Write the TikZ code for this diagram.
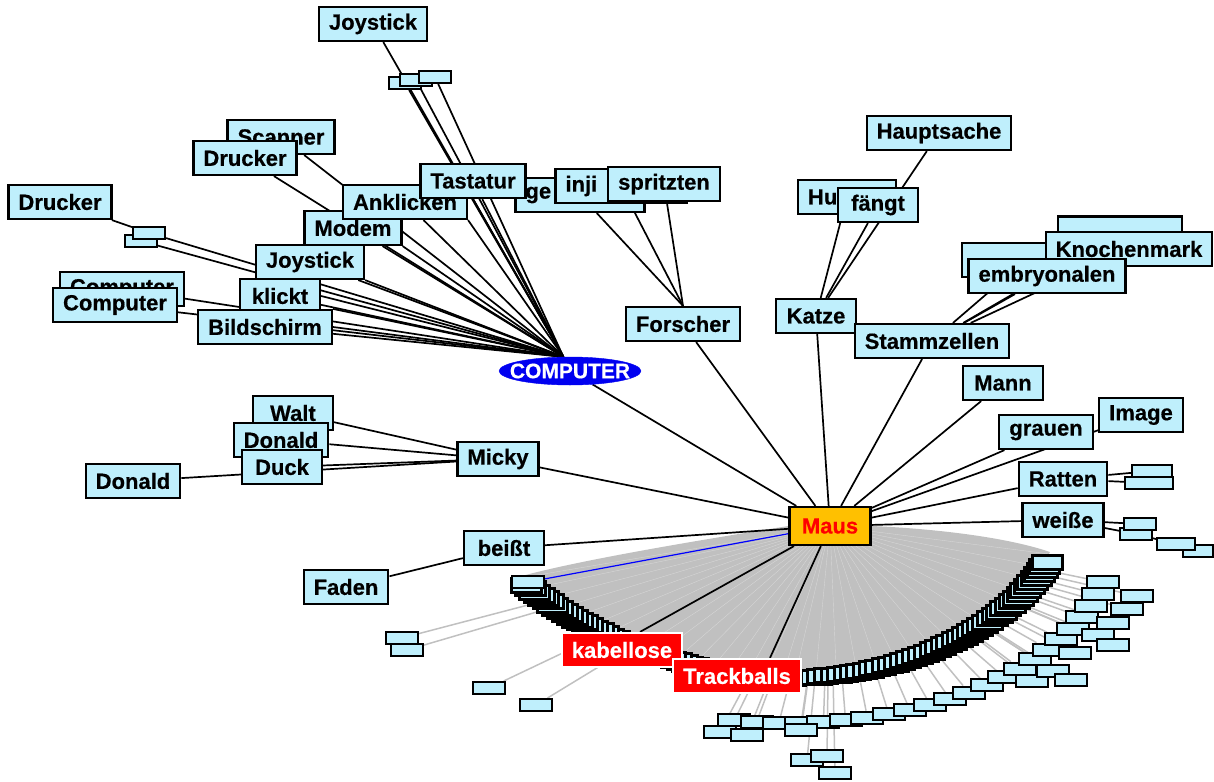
\documentclass[tikz,border=0pt]{standalone}
\usepackage{fontspec}
\setmainfont{Liberation Sans}[BoldFeatures={FakeBold=0.5}]
\usetikzlibrary{shapes.geometric,backgrounds,positioning}

\definecolor{termblue}{RGB}{191,239,252}
\definecolor{mausgold}{RGB}{255,192,0}
\definecolor{fangrey}{RGB}{192,192,192}
\definecolor{hubblue}{RGB}{0,0,240}
\newcommand{\termfont}{\fontsize{22}{26}\selectfont\bfseries}

\tikzset{
  term/.style={draw=black, line width=2.2pt, fill=termblue, font=\termfont,
    minimum height=34pt, minimum width=80pt, inner xsep=10pt, inner ysep=0pt},
  coveredterm/.style={term, text width=#1, align=left},
  tinybox/.style={draw=black, line width=2pt, fill=termblue,
    minimum width=32pt, minimum height=12pt, inner sep=0pt},
  bandbox/.style={tinybox, line width=3pt, minimum width=30pt, minimum height=14pt},
  hub/.style={ellipse, fill=hubblue, draw=hubblue, text=white,
    font=\fontsize{21}{24}\selectfont\bfseries, minimum width=142pt,
    minimum height=28pt, inner sep=0pt},
  mausbox/.style={draw=black, line width=2.2pt, fill=mausgold, text=red,
    font=\termfont, minimum width=81pt, minimum height=38pt},
  redterm/.style={term, fill=red, draw=white, text=white},
  link/.style={draw=black, line width=1.7pt},
  greylink/.style={draw=fangrey, line width=1.5pt},
}

\begin{document}
\begin{tikzpicture}[x=1pt,y=-1pt]
\useasboundingbox (0,0) rectangle (1214,781);

% COMPUTER side
\node[hub] (computer) at (570,371) {\makebox[0pt]{COMPUTER}};
\node[term] (joystickA) at (373,24) {Joystick};
\node[tinybox] (jtA) at (405,83) {};
\node[tinybox] (jtB) at (416,80) {};
\node[tinybox] (jtC) at (435,77) {};
\node[term] (druckerA) at (60,202) {Drucker};
\node[tinybox] (dtA) at (141,241) {};
\node[tinybox] (dtB) at (149,233) {};
\node[term] (scanner) at (281,137) {Scanner};
\node[term] (druckerB) at (245,158) {Drucker};
\node[term] (computerB) at (122,289) {Computer};
\node[term] (computerA) at (115,305) {Computer};
\node[term] (modem) at (353,228) {Modem};
\node[term] (anklicken) at (405,202) {Anklicken};
\node[coveredterm=109pt] (gen) at (580,195) {ge};
\node[coveredterm=111pt] (inji) at (621,186) {inji};
\node[term] (spritzten) at (664,184) {spritzten};
\node[term] (tastatur) at (473,181) {Tastatur};
\node[term] (joystickB) at (310,262) {Joystick};
\node[term] (klickt) at (280,296) {klickt};
\node[term] (bildschirm) at (265,327) {Bildschirm};

% Maus side
\node[mausbox] (maus) at (830,526) {Maus};
\node[term] (forscher) at (683,324) {Forscher};
\node[coveredterm=78pt] (hu) at (847,197) {Hu};
\node[term] (faengt) at (878,205) {fängt};
\node[term] (hauptsache) at (939,133) {Hauptsache};
\node[term] (katze) at (816,316) {Katze};
\node[term,minimum width=124pt,minimum height=31pt] (stammA) at (1120,232) {};
\node[term,minimum width=128pt] (stammB) at (1026,260) {};
\node[term] (knochenmark) at (1129,249) {Knochenmark};
\node[term] (embryonalen) at (1047,276) {embryonalen};
\node[term] (stammzellen) at (932,341) {Stammzellen};
\node[term] (mann) at (1003,383) {Mann};
\node[term] (image) at (1141,415) {Image};
\node[term] (grauen) at (1046,432) {grauen};
\node[term] (ratten) at (1063,479) {Ratten};
\node[tinybox,minimum width=48pt] (rtB) at (1149,483) {};
\node[tinybox,minimum width=40pt] (rtA) at (1152,471) {};
\node[term] (weisse) at (1063,520) {weiße};
\node[tinybox] (wtB) at (1136,534) {};
\node[tinybox] (wtA) at (1140,524) {};
\node[tinybox,minimum width=30pt] (wtD) at (1198,551) {};
\node[tinybox,minimum width=38pt] (wtC) at (1176,544) {};
\node[term] (micky) at (498,459) {Micky};
\node[term] (walt) at (293,413) {Walt};
\node[term] (donaldB) at (281,440) {Donald};
\node[term] (duck) at (282,467) {Duck};
\node[term] (donaldA) at (133,481) {Donald};
\node[term] (beisst) at (504,548) {beißt};
\node[term] (faden) at (346,587) {Faden};

% crowded band under Maus
\foreach \p [count=\i] in {1.0,0.98,...,0}
  \path (522,582) .. controls (590,640) and (700,678) .. (790,678)
    node[bandbox,pos=\p] (bandL\i) {};
\foreach \p [count=\i] in {0,0.02,...,1.0}
  \path (790,678) .. controls (900,678) and (1010,630) .. (1050,558)
    node[bandbox,pos=\p] (bandR\i) {};
\foreach \t [count=\i] in {100,96,...,12}
  \node[tinybox] (rim\i) at ({790+320*cos(\t)},{545+178*sin(\t)}) {};
\foreach \x/\y [count=\i] in {402/638,407/650,489/688,536/705,720/732,747/735,
    801/730,807/760,827/756,835/773,1137/596,1127/609,1113/623,1098/635,
    1113/645,1075/653,1032/681,1053/671,1071/680}
  \node[tinybox] (lone\i) at (\x,\y) {};
\node[tinybox] (gene) at (528,582) {};
\node[redterm] (kabellose) at (622,650) {kabellose};
\node[redterm] (trackballs) at (737,676) {Trackballs};

\begin{pgfonlayer}{background}
  \foreach \i in {1,...,23} \draw[greylink] (maus) -- (rim\i);
  \foreach \i in {1,...,19} \draw[greylink] (maus) -- (lone\i);
  \fill[fangrey] (maus.west) .. controls (700,540) and (580,560) .. (522,576)
    .. controls (590,634) and (700,672) .. (790,672)
    .. controls (900,672) and (1010,624) .. (1050,552)
    .. controls (1000,535) and (920,528) .. (maus.east) -- cycle;
  \foreach \i in {2,5,...,50} {
    \draw[white,line width=0.4pt,opacity=0.35] (maus.center) -- (bandL\i.north);
    \draw[white,line width=0.4pt,opacity=0.35] (maus.center) -- (bandR\i.north);
  }
  \draw[blue,line width=1.2pt] (maus) -- (gene);
  \draw[link] (maus) -- ([xshift=18pt]kabellose.north);
  \draw[link] (maus) -- ([xshift=33pt]trackballs.north);

  \foreach \n in {joystickA,jtA,jtB,jtC,scanner,druckerB,dtA,dtB,computerA,
      computerB,modem,modem.south east,anklicken,anklicken.south east,
      tastatur,tastatur.south,joystickB,joystickB.south east,klickt,
      klickt.east,bildschirm,bildschirm.east,bildschirm.north east}
    \draw[link] (computer.115) -- (\n);
  \draw[link] (druckerA) -- (dtB);

  \foreach \n in {computer,micky,beisst,forscher,katze,stammzellen,mann,
      grauen,image,ratten,weisse}
    \draw[link] (maus) -- (\n);
  \foreach \n in {walt,donaldB,duck,donaldA} \draw[link] (micky) -- (\n);
  \draw[link] (beisst) -- (faden);
  \foreach \n in {gen,inji,spritzten} \draw[link] (forscher.north) -- (\n);
  \foreach \n in {hu,faengt,hauptsache} \draw[link] (katze) -- (\n);
  \foreach \n in {stammA,stammB,knochenmark,embryonalen}
    \draw[link] (stammzellen) -- (\n);
  \draw[link] (ratten) -- (rtA);
  \draw[link] (ratten) -- (rtB);
  \draw[link] (weisse) -- (wtA);
  \draw[link] (weisse) -- (wtB);
  \draw[link] (wtB) -- (wtC);
  \draw[link] (wtC) -- (wtD);
\end{pgfonlayer}
\end{tikzpicture}
\end{document}
